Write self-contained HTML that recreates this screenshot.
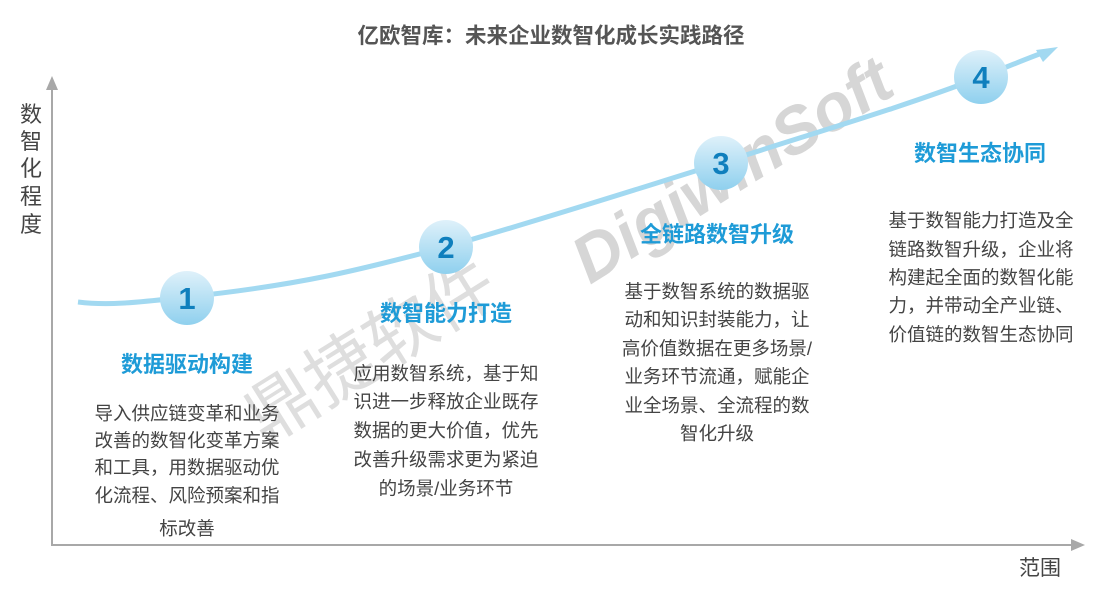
<!DOCTYPE html>
<html><head><meta charset="utf-8"><style>
html,body{margin:0;padding:0;background:#fff;}
svg{display:block;}
text{font-family:"Liberation Sans","Noto Sans CJK SC",sans-serif;}
.h{font-size:22px;font-weight:bold;fill:#1e9bd7;text-anchor:middle;}
.b{font-size:18.5px;fill:#444;text-anchor:middle;}
.n{font-size:31px;font-weight:bold;fill:#0f7fbd;text-anchor:middle;}
</style></head><body>
<svg width="1105" height="598" viewBox="0 0 1105 598" xmlns="http://www.w3.org/2000/svg">
<defs>
<linearGradient id="g" x1="0" y1="0" x2="0" y2="1">
<stop offset="0" stop-color="#dff1fa"/><stop offset="1" stop-color="#8fd0ee"/>
</linearGradient>
</defs>
<!-- watermark -->
<text x="590" y="285" transform="rotate(-32 590 285)" font-size="66" font-weight="bold" font-style="italic" fill="#cfcfcf" opacity="0.85">DigiwinSoft</text>
<text x="265" y="445" transform="rotate(-32 265 445)" font-size="70" fill="#d9d9d9" opacity="0.85">鼎捷软件</text>
<!-- axes -->
<line x1="52" y1="86" x2="52" y2="546" stroke="#a8a8a8" stroke-width="2"/>
<polygon points="52,76 46,90 58,90" fill="#a8a8a8"/>
<line x1="51" y1="545" x2="1074" y2="545" stroke="#a8a8a8" stroke-width="2"/>
<polygon points="1085,545 1071,539 1071,551" fill="#a8a8a8"/>
<!-- title -->
<text x="551" y="43" font-size="21.5" font-weight="bold" fill="#555" text-anchor="middle">亿欧智库：未来企业数智化成长实践路径</text>
<!-- y label -->
<g font-size="22" fill="#444" text-anchor="middle">
<text x="31" y="122">数</text><text x="31" y="149">智</text><text x="31" y="176">化</text><text x="31" y="204">程</text><text x="31" y="232">度</text>
</g>
<text x="1040" y="575" font-size="21" fill="#444" text-anchor="middle">范围</text>
<!-- curve -->
<path d="M78,302 C110,306 140,302 187,297 C300,285 360,270 446,247 C560,214 640,188 721,163 C820,131 900,108 981,77 C1010,66 1030,57 1048,51" fill="none" stroke="#a2d9f1" stroke-width="5"/>
<polygon points="1058,47 1036,50 1043,62" fill="#a2d9f1"/>
<!-- circles -->
<circle cx="187" cy="298" r="27" fill="url(#g)"/><text class="n" x="187" y="309">1</text>
<circle cx="446" cy="247" r="27" fill="url(#g)"/><text class="n" x="446" y="258">2</text>
<circle cx="721" cy="163" r="27" fill="url(#g)"/><text class="n" x="721" y="174">3</text>
<circle cx="981" cy="77" r="27" fill="url(#g)"/><text class="n" x="981" y="88">4</text>
<!-- block 1 -->
<text class="h" x="187" y="372">数据驱动构建</text>
<text class="b" x="187" y="420">导入供应链变革和业务</text>
<text class="b" x="187" y="447">改善的数智化变革方案</text>
<text class="b" x="187" y="474">和工具，用数据驱动优</text>
<text class="b" x="187" y="502">化流程、风险预案和指</text>
<text class="b" x="187" y="535">标改善</text>
<!-- block 2 -->
<text class="h" x="446" y="321">数智能力打造</text>
<text class="b" x="446" y="380">应用数智系统，基于知</text>
<text class="b" x="446" y="408">识进一步释放企业既存</text>
<text class="b" x="446" y="437">数据的更大价值，优先</text>
<text class="b" x="446" y="466">改善升级需求更为紧迫</text>
<text class="b" x="446" y="495">的场景/业务环节</text>
<!-- block 3 -->
<text class="h" x="717" y="242">全链路数智升级</text>
<text class="b" x="717" y="298">基于数智系统的数据驱</text>
<text class="b" x="717" y="326">动和知识封装能力，让</text>
<text class="b" x="717" y="355">高价值数据在更多场景/</text>
<text class="b" x="717" y="383">业务环节流通，赋能企</text>
<text class="b" x="717" y="412">业全场景、全流程的数</text>
<text class="b" x="717" y="440">智化升级</text>
<!-- block 4 -->
<text class="h" x="980" y="161">数智生态协同</text>
<text class="b" x="981" y="227">基于数智能力打造及全</text>
<text class="b" x="981" y="256">链路数智升级，企业将</text>
<text class="b" x="981" y="284">构建起全面的数智化能</text>
<text class="b" x="981" y="312">力，并带动全产业链、</text>
<text class="b" x="981" y="341">价值链的数智生态协同</text>
</svg>
</body></html>
